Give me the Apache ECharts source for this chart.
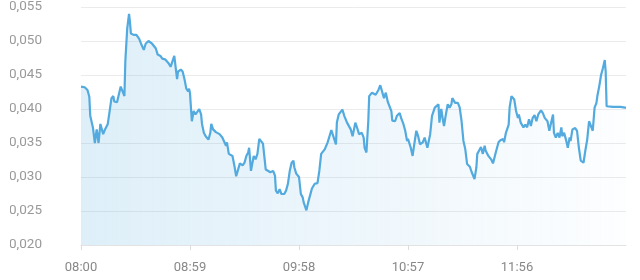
<!DOCTYPE html>
<html>
<head>
<meta charset="utf-8">
<script src="https://cdn.jsdelivr.net/npm/echarts@6/dist/echarts.min.js"></script>
<style>html,body{margin:0;padding:0;background:#fff}#c{width:640px;height:280px}</style>
</head>
<body>
<div id="c"></div>
<script>
// minutes after 08:00
const minutes = [0,2,3.5,4.5,5,6.5,7.5,8.5,9.5,10.5,12,13,14.5,15.5,16.5,17.5,18,19.5,20.5,21.5,22.5,23.5,24,25,26,26.5,27,28.5,30,31.5,32.5,34,35,36.5,37,38.5,39,40.5,41.5,43,44,45.5,46.5,47.5,48.5,49.5,50.5,51.5,52,52.5,54,55,56,57,58,58.5,59,60,61,62,63,64,65,65.5,66.5,67.5,69,70,70.5,71.5,73,75,76.5,77.5,78.5,79,80,81,82,83,84,85,86,87.5,88.5,89.5,90.5,91,92,93.5,94.5,95.5,96.5,97.5,98.5,100,101,102.5,104,105,105.5,106.5,107.5,108.5,110,111,112,113,114,115,115.5,116.5,118,119,120,120.5,122,123,124,125,126.5,128,129,130,131,132,133.5,134.5,135.5,136.5,138,138.5,139.5,140.5,141.5,142.5,144,145,146,147,148.5,149.5,150.5,152,153,153.5,154.5,155.5,156,157.5,158.5,159.5,161,162,163,164,165,166,167,168,168.5,170,171,172.5,173.5,174.5,175.5,176.5,177,178.5,179.5,180,181.5,182.5,183.5,185,186,187.5,189,190,191.5,192.5,193.5,194,195,196,196.5,197.5,198.5,199.5,200.5,201,202.5,203.5,204,205,206,207,208,209,210.5,211.5,213,214,214.5,215.5,216.5,217.5,218.5,219,220.5,222,223,224.5,226,227,228.5,229,230,231.5,232,233,234.5,235.5,236.5,237,238,239.5,240.5,241.5,242.5,243.5,244.5,245.5,246.5,247.5,249,250,251,252.5,253.5,254.5,255.5,256,257,258,259,260,260.5,261.5,262.5,263.5,264.5,265,266,267.5,268.5,269.5,270.5,272,273,274,275,276,277,278,279,279.5,280.5,281.5,282.5,283.5,284,284.5,288,292,294.5,295];
const values = [0.0433,0.0432,0.0428,0.0418,0.0390,0.0372,0.0350,0.0370,0.0350,0.0378,0.0363,0.0370,0.0378,0.0397,0.0416,0.0419,0.0411,0.0410,0.0411,0.0433,0.0426,0.0419,0.0470,0.0518,0.0540,0.0528,0.0511,0.0509,0.0509,0.0503,0.0496,0.0487,0.0496,0.0500,0.0502,0.0496,0.0497,0.0489,0.0480,0.0478,0.0474,0.0473,0.0474,0.0467,0.0462,0.0470,0.0478,0.0480,0.0444,0.0455,0.0458,0.0455,0.0444,0.0430,0.0426,0.0430,0.0423,0.0382,0.0397,0.0392,0.0394,0.0400,0.0392,0.0378,0.0365,0.0360,0.0355,0.0365,0.0378,0.0370,0.0366,0.0363,0.0358,0.0356,0.0346,0.0351,0.0334,0.0336,0.0331,0.0317,0.0301,0.0302,0.0320,0.0317,0.0321,0.0331,0.0336,0.0343,0.0309,0.0331,0.0326,0.0334,0.0356,0.0356,0.0349,0.0311,0.0309,0.0307,0.0309,0.0302,0.0280,0.0276,0.0282,0.0275,0.0275,0.0280,0.0290,0.0309,0.0321,0.0324,0.0314,0.0305,0.0300,0.0275,0.0270,0.0263,0.0251,0.0263,0.0273,0.0283,0.0290,0.0291,0.0309,0.0334,0.0336,0.0341,0.0351,0.0360,0.0369,0.0370,0.0348,0.0380,0.0392,0.0394,0.0399,0.0390,0.0380,0.0380,0.0370,0.0360,0.0380,0.0372,0.0363,0.0365,0.0358,0.0343,0.0336,0.0382,0.0419,0.0424,0.0426,0.0421,0.0428,0.0435,0.0433,0.0416,0.0424,0.0411,0.0404,0.0397,0.0383,0.0382,0.0390,0.0394,0.0385,0.0378,0.0368,0.0353,0.0356,0.0343,0.0331,0.0341,0.0368,0.0360,0.0348,0.0351,0.0358,0.0343,0.0363,0.0390,0.0402,0.0400,0.0407,0.0380,0.0400,0.0382,0.0375,0.0392,0.0407,0.0402,0.0407,0.0416,0.0409,0.0411,0.0409,0.0402,0.0382,0.0353,0.0341,0.0319,0.0315,0.0307,0.0297,0.0314,0.0334,0.0339,0.0344,0.0334,0.0346,0.0339,0.0331,0.0326,0.0320,0.0336,0.0351,0.0354,0.0356,0.0351,0.0365,0.0377,0.0402,0.0419,0.0414,0.0397,0.0387,0.0392,0.0380,0.0373,0.0377,0.0373,0.0385,0.0375,0.0387,0.0391,0.0382,0.0392,0.0398,0.0394,0.0387,0.0382,0.0368,0.0380,0.0392,0.0365,0.0358,0.0365,0.0358,0.0373,0.0360,0.0365,0.0355,0.0343,0.0358,0.0353,0.0370,0.0372,0.0368,0.0343,0.0324,0.0321,0.0339,0.0355,0.0382,0.0375,0.0368,0.0402,0.0409,0.0419,0.0433,0.0450,0.0460,0.0472,0.0455,0.0404,0.0403,0.0403,0.0402,0.0402];
const xTickLabels = ['08:00','08:59','09:58','10:57','11:56','12:55'];
const yTicks = [0.020,0.025,0.030,0.035,0.040,0.045,0.050,0.055];

const data = minutes.map((m, i) => [m, values[i]]);
const chart = echarts.init(document.getElementById('c'), null, {renderer:'canvas'});
chart.setOption({
  animation: false,
  grid: {left: 81, right: 14, top: 5, bottom: 35},
  xAxis: {
    type: 'value', min: 0, max: 295, interval: 59,
    axisLine: {show: true, lineStyle: {color: '#e3e3e3'}},
    axisTick: {show: true, length: 5, lineStyle: {color: '#dcdcdc'}},
    splitLine: {show: false},
    axisLabel: {
      color: '#888', fontSize: 13, fontFamily: 'Roboto', margin: 16,
      showMaxLabel: false,
      formatter: v => xTickLabels[Math.round(v / 59)] || ''
    }
  },
  yAxis: {
    type: 'value', min: yTicks[0], max: yTicks[yTicks.length-1], interval: 0.005,
    axisLine: {show: false}, axisTick: {show: false},
    splitLine: {lineStyle: {color: '#ebebeb'}},
    axisLabel: {
      color: '#999', fontSize: 13.5, fontFamily: 'Roboto', margin: 39,
      formatter: v => v.toFixed(3).replace('.', ',')
    }
  },
  graphic: [{type: 'rect', left: 0, top: 0, z: 100, shape: {width: 10, height: 280}, style: {fill: '#fff'}}],
  series: [{
    type: 'line', data: data, symbol: 'none', smooth: false,
    lineStyle: {color: '#52aade', width: 2.2},
    areaStyle: {
      color: new echarts.graphic.LinearGradient(0, 0, 1, 0, [
        {offset: 0, color: 'rgba(85,172,223,0.28)'},
        {offset: 1, color: 'rgba(85,172,223,0.02)'}
      ]),
      origin: 'start'
    }
  }]
});
</script>
</body>
</html>
